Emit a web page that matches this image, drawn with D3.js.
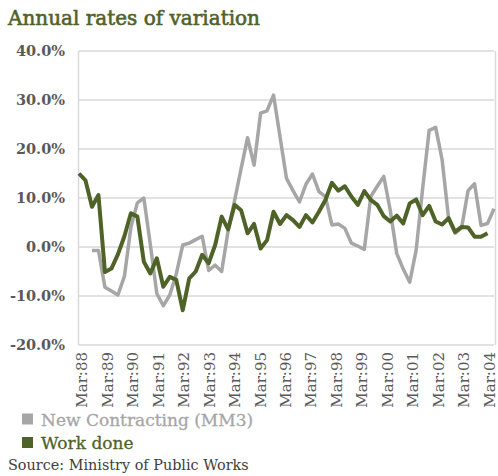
<!DOCTYPE html>
<html>
<head>
<meta charset="UTF-8">
<title>Annual rates of variation</title>
<style>
  body { margin: 0; background: #fff; }
  svg text { font-family: "DejaVu Serif", serif; }
</style>
</head>
<body>
<div id="chart"></div>
<script src="https://cdn.jsdelivr.net/npm/d3@7"></script>
<script>
// quarters Mar88 .. Mar04 (65 quarters), label shown every 4th
var years = ["88","89","90","91","92","93","94","95","96","97","98","99","00","01","02","03","04"];
var quarters = ["Mar", "Jun", "Sep", "Dec"];
var categories = [];
years.forEach(function(y, yi){
    quarters.forEach(function(q, qi){
        if (yi < years.length - 1 || qi === 0) categories.push(q + ":" + y);
    });
});

// New Contracting (MM3), %
var newContracting = [null, null, -0.7, -0.7, -8.2, -9.0, -9.8, -6.0, 4.0, 9.0,
    10.0, 0.5, -9.5, -12.0, -9.8, -5.5, 0.4, 0.8, 1.5, 2.2,
    -4.8, -3.7, -5.0, 3.3, 9.5, 16.0, 22.3, 16.7, 27.3, 27.8,
    31.0, 22.5, 14.0, 11.5, 9.2, 12.8, 14.9, 11.3, 10.3, 4.5,
    4.7, 3.8, 0.8, 0.2, -0.5, 10.3, 12.4, 14.4, 7.5, -1.3,
    -4.5, -7.2, -0.6, 12.0, 23.8, 24.4, 17.8, 5.8, 2.8, 3.9,
    11.5, 12.9, 4.4, 4.8, 7.8];

// Work done, %
var workDone = [15.0, 13.6, 8.2, 10.6, -5.1, -4.4, -1.5, 2.2, 6.9, 6.2,
    -3.0, -5.4, -2.3, -8.1, -6.1, -6.7, -12.9, -6.4, -5.0, -1.6,
    -3.3, 0.4, 6.2, 3.6, 8.6, 7.5, 2.8, 4.7, -0.3, 1.4,
    7.2, 4.7, 6.5, 5.5, 4.1, 6.5, 5.0, 7.2, 9.6, 13.1,
    11.5, 12.4, 10.3, 8.6, 11.4, 9.6, 8.6, 6.3, 5.2, 6.4,
    4.8, 8.9, 9.7, 6.5, 8.4, 5.2, 4.6, 5.9, 3.1, 4.1,
    4.0, 2.1, 2.1, 2.8, null];

var yTicks = [-20, -10, 0, 10, 20, 30, 40];

var W = 498, H = 476;
var plot = {left: 79, right: 494, top: 51, bottom: 345};
var green = "#4f6228", grey = "#a6a6a6";

var svg = d3.select("#chart").append("svg")
    .attr("width", W)
    .attr("height", H);

var x = d3.scalePoint()
    .domain(categories)
    .range([plot.left, plot.right]);

var y = d3.scaleLinear()
    .domain([-20, 40])
    .range([plot.bottom, plot.top]);

// tick labels sit a little inside the plot ends
var labelCats = categories.filter(function(d, i){ return i % 4 === 0; });
var xLabel = d3.scalePoint()
    .domain(labelCats)
    .range([plot.left + 2.5, plot.right - 5]);

// grid
svg.append("g")
    .selectAll("line")
    .data(yTicks)
    .enter().append("line")
    .attr("x1", plot.left).attr("x2", plot.right)
    .attr("y1", function(d){ return y(d); })
    .attr("y2", function(d){ return y(d); })
    .attr("stroke", "#d9d9d9")
    .attr("stroke-width", 1.5);

// frame left / right
svg.append("line")
    .attr("x1", plot.left - 0.5).attr("x2", plot.left - 0.5)
    .attr("y1", plot.top).attr("y2", plot.bottom)
    .attr("stroke", "#d9d9d9").attr("stroke-width", 1.5);
svg.append("line")
    .attr("x1", plot.right + 1.5).attr("x2", plot.right + 1.5)
    .attr("y1", plot.top).attr("y2", plot.bottom)
    .attr("stroke", "#d9d9d9").attr("stroke-width", 1.5);

// y axis
var yAxis = svg.append("g")
    .attr("transform", "translate(" + (plot.left - 11) + ",0)")
    .call(d3.axisLeft(y).tickValues(yTicks).tickSize(0)
        .tickFormat(function(d){ return d.toFixed(1) + "%"; }));
yAxis.select(".domain").remove();
yAxis.selectAll("text")
    .attr("fill", "#595959")
    .attr("font-size", "14.5px")
    .attr("font-weight", "bold")
    .attr("font-family", "DejaVu Serif");

// x axis
var xAxis = svg.append("g")
    .attr("transform", "translate(0," + plot.bottom + ")")
    .call(d3.axisBottom(xLabel).tickSize(0));
xAxis.select(".domain").remove();
xAxis.selectAll("text")
    .attr("fill", "#595959")
    .attr("font-size", "15px")
    .attr("font-family", "DejaVu Serif")
    .attr("text-anchor", "end")
    .attr("dy", "0.35em")
    .attr("transform", "translate(0,7) rotate(-90)")
    .attr("x", 0)
    .attr("y", 0);

// lines
var line = d3.line()
    .defined(function(d){ return d.v !== null; })
    .x(function(d){ return x(d.c); })
    .y(function(d){ return y(d.v); });

function pairs(values){
    return categories.map(function(c, i){ return {c: c, v: values[i]}; });
}

svg.append("path")
    .datum(pairs(newContracting))
    .attr("fill", "none")
    .attr("stroke", grey)
    .attr("stroke-width", 3.5)
    .attr("stroke-linejoin", "round")
    .attr("d", line);

svg.append("path")
    .datum(pairs(workDone))
    .attr("fill", "none")
    .attr("stroke", green)
    .attr("stroke-width", 4)
    .attr("stroke-linejoin", "round")
    .attr("d", line);

// title
svg.append("text")
    .attr("x", 8).attr("y", 25)
    .attr("fill", green)
    .attr("stroke", green)
    .attr("stroke-width", 0.6)
    .attr("font-size", "20px")
    .text("Annual rates of variation");

// legend
var legend = [
    {name: "New Contracting (MM3)", color: grey},
    {name: "Work done", color: green}
];
var lg = svg.append("g").selectAll("g")
    .data(legend)
    .enter().append("g")
    .attr("transform", function(d, i){ return "translate(22," + (413.5 + i * 23.5) + ")"; });
lg.append("rect")
    .attr("width", 11).attr("height", 11)
    .attr("fill", function(d){ return d.color; });
lg.append("text")
    .attr("x", 19).attr("y", 12)
    .attr("font-size", "17px")
    .attr("fill", function(d){ return d.color; })
    .attr("stroke", function(d){ return d.color; })
    .attr("stroke-width", 0.3)
    .text(function(d){ return d.name; });

// source
svg.append("text")
    .attr("x", 8).attr("y", 470)
    .attr("fill", "#404040")
    .attr("font-size", "14.4px")
    .text("Source: Ministry of Public Works");
</script>
</body>
</html>
